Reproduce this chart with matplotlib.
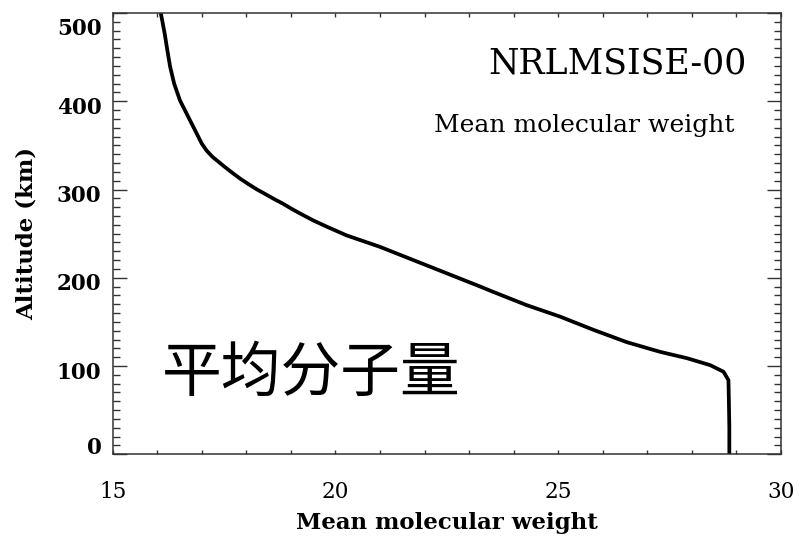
import matplotlib
matplotlib.use("Agg")
import matplotlib.pyplot as plt
import matplotlib.transforms as mtransforms
from matplotlib.ticker import MultipleLocator

# NRLMSISE-00 mean molecular weight profile
altitude_km = [500, 476, 460, 439, 420, 401, 390, 378, 365, 352, 344, 337,
               325, 318, 312, 306, 300, 295, 289, 284, 278, 273, 265, 258,
               248, 235, 220, 205, 190, 184, 169, 156, 141, 127, 116, 109,
               101, 93.5, 84, 60, 30, 0]
mean_mol_weight = [16.08, 16.17, 16.22, 16.29, 16.38, 16.51, 16.62, 16.74,
                   16.87, 17.00, 17.11, 17.24, 17.53, 17.71, 17.87, 18.05,
                   18.24, 18.42, 18.63, 18.82, 19.02, 19.20, 19.50, 19.80,
                   20.25, 21.00, 21.75, 22.50, 23.25, 23.54, 24.29, 25.04,
                   25.79, 26.54, 27.29, 27.88, 28.41, 28.71, 28.82, 28.83,
                   28.84, 28.84]

x_ticks = [15, 20, 25, 30]
y_ticks = [0, 100, 200, 300, 400, 500]

plt.rcParams["font.family"] = ["DejaVu Serif"]
serif = ["DejaVu Serif"]

fig = plt.figure(figsize=(7.99, 5.41), dpi=100)
ax = fig.add_axes([0.141, 0.1603, 0.8365, 0.8157])

ax.plot(mean_mol_weight, altitude_km, color="black", lw=2.7,
        solid_capstyle="butt", solid_joinstyle="round")

ax.set_xlim(15, 30)
ax.set_ylim(0, 500)

for sp in ax.spines.values():
    sp.set_linewidth(1.1)
    sp.set_color("#333333")

ax.set_xticks(x_ticks)
ax.set_yticks(y_ticks)
ax.xaxis.set_minor_locator(MultipleLocator(1))
ax.yaxis.set_minor_locator(MultipleLocator(10))
ax.tick_params(axis="x", which="both", direction="in", top=True,
               length=3, width=1, color="#333333", pad=19)
ax.tick_params(axis="y", which="major", direction="in", right=True,
               length=10, width=1, color="#333333", pad=8)
ax.tick_params(axis="y", which="minor", direction="in", right=True,
               length=5, width=1, color="#333333")

ax.set_xticklabels([str(v) for v in x_ticks], family=serif, fontsize=15.5)
ax.set_yticklabels([str(v) for v in y_ticks], family=serif, fontsize=15.5,
                   fontweight="bold")

# IDL-style label placement: a little below the tick, ends pulled inside
y_shift = {"0": 6 / 72, "500": -9.5 / 72}
for lab in ax.get_yticklabels():
    dy = y_shift.get(lab.get_text(), -3 / 72)
    lab.set_transform(lab.get_transform() +
                      mtransforms.ScaledTranslation(0, dy, fig.dpi_scale_trans))

ax.set_xlabel("Mean molecular weight", family=serif, fontsize=16.5,
              fontweight="bold", labelpad=7)
ax.set_ylabel("Altitude (km)", family=serif, fontsize=16.5,
              fontweight="bold", labelpad=14)

ax.text(0.948, 0.885, "NRLMSISE-00", transform=ax.transAxes, ha="right",
        va="center", family=serif, fontsize=25)
ax.text(0.931, 0.746, "Mean molecular weight", transform=ax.transAxes,
        ha="right", va="center", family=serif, fontsize=18)

ax.text(0.297, 0.181, "平均分子量", transform=ax.transAxes, ha="center",
        va="center", family=["Noto Sans CJK SC", "DejaVu Sans"], fontsize=43)

fig.savefig("out.png", dpi=100)
